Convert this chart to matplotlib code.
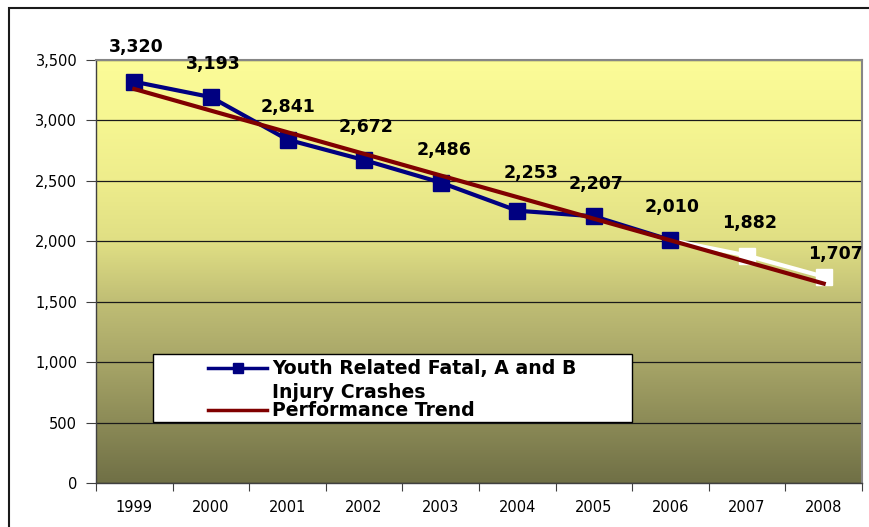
import matplotlib
matplotlib.use('Agg')
import matplotlib.pyplot as plt
import numpy as np
from matplotlib.colors import LinearSegmentedColormap
from matplotlib.ticker import FuncFormatter
from matplotlib.lines import Line2D
from matplotlib.patches import Rectangle

# chart data
years = ['1999', '2000', '2001', '2002', '2003', '2004', '2005', '2006', '2007', '2008']
crashes = [3320, 3193, 2841, 2672, 2486, 2253, 2207, 2010, 1882, 1707]
trend_years = ['1999', '2008']
trend_values = [3260, 1650]
last_actual = '2006'   # points after this are drawn white

series_label = 'Youth Related Fatal, A and B'
series_label2 = 'Injury Crashes'
trend_label = 'Performance Trend'

# label offsets (pixels right / up from the point, centre of text)
label_offsets = [(2, 36), (2, 35), (1, 34), (2, 35), (3, 34),
                 (14, 39), (2, 34), (2, 35), (2, 34), (12, 24)]

NAVY = '#000080'
MAROON = '#800000'

W, H = 870, 527


def fx(px):
    return px / W


def fy(py):
    return 1 - py / H


fig = plt.figure(figsize=(W / 100, H / 100), dpi=100)
fig.patch.set_facecolor('white')
ax = fig.add_axes([fx(96), fy(483), fx(862) - fx(96), fy(60) - fy(483)])

x = np.arange(len(years))
split = years.index(last_actual)

# gradient fill of the plot area
grad_cmap = LinearSegmentedColormap.from_list('bg', [
    (0.0, (112/255, 112/255, 70/255)),
    (0.29, (168/255, 166/255, 104/255)),
    (0.43, (192/255, 190/255, 117/255)),
    (0.57, (224/255, 223/255, 132/255)),
    (0.72, (238/255, 237/255, 140/255)),
    (0.86, (246/255, 246/255, 146/255)),
    (1.0, (252/255, 252/255, 152/255)),
])
grad = np.linspace(0, 1, 256).reshape(-1, 1)
ax.imshow(grad, cmap=grad_cmap, extent=[-0.5, len(years) - 0.5, 0, 3500],
          origin='lower', aspect='auto', zorder=0)

# series
ax.plot(x[:split + 1], crashes[:split + 1], color=NAVY, lw=3, marker='s',
        ms=12, mew=1, zorder=3)
ax.plot(x[split:], crashes[split:], color='white', lw=3, zorder=2.9)
ax.plot(x[split + 1:], crashes[split + 1:], ls='none', marker='s', ms=12,
        mew=1, color='white', zorder=3)

# performance trend
tx = [years.index(y) for y in trend_years]
ax.plot(tx, trend_values, color=MAROON, lw=3, zorder=4)

# data labels
for xi, v, (dx, dy) in zip(x, crashes, label_offsets):
    ax.annotate(f'{v:,}', (xi, v), xytext=(dx, dy - 6.5),
                textcoords='offset pixels', ha='center', va='baseline',
                fontsize=12.5, fontweight='bold', color='black', zorder=5)

# axes
ax.set_xlim(-0.5, len(years) - 0.5)
ax.set_ylim(0, 3500)
ax.set_xticks(np.arange(-0.5, len(years), 1))
ax.set_xticklabels([])
ax.set_xticks(x, minor=True)
ax.set_xticklabels(years, minor=True)
ax.tick_params(axis='x', which='major', length=6, direction='out', color='#404040')
ax.tick_params(axis='x', which='minor', length=0, pad=12, labelsize=10.5)
ax.set_yticks(np.arange(0, 3501, 500))
ax.yaxis.set_major_formatter(FuncFormatter(lambda v, p: f'{v:,.0f}'))
ax.tick_params(axis='y', length=7, direction='out', color='#404040', pad=6.5, labelsize=10.5)
ax.yaxis.grid(True, color='#1a1a1a', lw=0.9)

for side in ['top', 'right']:
    ax.spines[side].set_color('#868686')
    ax.spines[side].set_linewidth(1.5)
for side in ['left', 'bottom']:
    ax.spines[side].set_color('#404040')
    ax.spines[side].set_linewidth(1)

# legend box
fig.add_artist(Rectangle((fx(153), fy(422)), fx(632) - fx(153), fy(354) - fy(422),
                         facecolor='white', edgecolor='black', lw=1,
                         transform=fig.transFigure))
fig.add_artist(Line2D([fx(208), fx(267)], [fy(368), fy(368)], color=NAVY, lw=2.5,
                      transform=fig.transFigure))
fig.add_artist(Line2D([fx(237.5)], [fy(368)], color=NAVY, marker='s', ms=7,
                      transform=fig.transFigure))
fig.add_artist(Line2D([fx(208), fx(267)], [fy(410), fy(410)], color=MAROON, lw=2.5,
                      transform=fig.transFigure))
leg_font = dict(fontsize=13.6, fontweight='bold', va='baseline', ha='left')
fig.text(fx(272), fy(374.3), series_label, **leg_font)
fig.text(fx(272), fy(398), series_label2, **leg_font)
fig.text(fx(272), fy(416.5), trend_label, **leg_font)

# outer chart border (only top and left are visible)
fig.add_artist(Rectangle((fx(9), -0.1), 1.2, fy(8) + 0.1, fill=False,
                         edgecolor='#1a1a1a', lw=1.5, transform=fig.transFigure))

fig.savefig('out.png', dpi=100)
